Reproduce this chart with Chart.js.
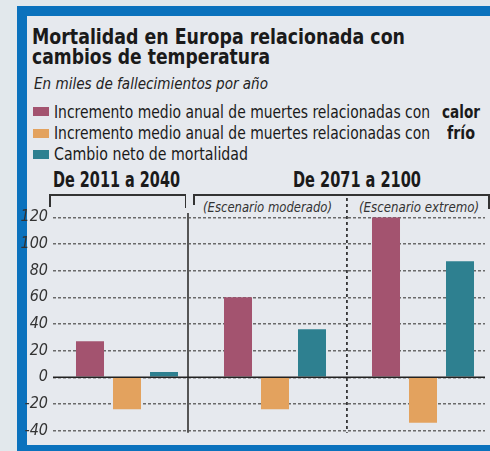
<!DOCTYPE html>
<html>
<head>
<meta charset="utf-8">
<script src="https://cdn.jsdelivr.net/npm/chart.js@4.4.1/dist/chart.umd.min.js"></script>
<style>
  html, body { margin:0; padding:0; }
  body { width:490px; height:451px; position:relative; overflow:hidden; background:#e2e8ec;
         font-family:"Liberation Sans Narrow","DejaVu Sans Condensed","Liberation Sans",Arial,sans-serif; color:#1a1a1a; }
  #panel { position:absolute; left:17px; top:6px; width:473px; height:445px; background:#0b72bd; }
  #inner { position:absolute; left:27px; top:16px; width:463px; height:429px; background:#e6e9ee; }
  .t { position:absolute; white-space:nowrap; line-height:1; transform-origin:0 0; }
  .sw { position:absolute; width:16px; height:9px; }
  .ln { position:absolute; }
  canvas { position:absolute; left:0; top:0; }
</style>
</head>
<body>
<div id="panel"></div>
<div id="inner"></div>

<div class="t" data-w="373" style="left:32px;top:26px;font-size:22px;font-weight:bold;">Mortalidad en Europa relacionada con</div>
<div class="t" data-w="238" style="left:32px;top:46px;font-size:22px;font-weight:bold;">cambios de temperatura</div>
<div class="t" data-w="234" style="left:34px;top:77px;font-size:15px;font-style:italic;color:#222;">En miles de fallecimientos por año</div>

<div class="sw" id="sw0" style="left:33px;top:107px;"></div>
<div class="sw" id="sw1" style="left:33px;top:129px;"></div>
<div class="sw" id="sw2" style="left:33px;top:150px;"></div>
<div class="t" id="lg0" data-w="376" style="left:54px;top:104px;font-size:17px;"></div>
<div class="t" id="lgb0" data-w="38" style="left:442px;top:104px;font-size:17px;font-weight:bold;"></div>
<div class="t" id="lg1" data-w="376" style="left:54px;top:125px;font-size:17px;"></div>
<div class="t" id="lgb1" data-w="28" style="left:447px;top:125px;font-size:17px;font-weight:bold;"></div>
<div class="t" id="lg2" data-w="194" style="left:54px;top:146px;font-size:17px;"></div>

<div class="t" data-w="127" style="left:53px;top:170px;font-size:21px;font-weight:bold;">De 2011 a 2040</div>
<div class="t" data-w="128" style="left:293px;top:170px;font-size:21px;font-weight:bold;">De 2071 a 2100</div>
<div class="t" data-w="129" style="left:203px;top:200px;font-size:14.5px;font-style:italic;color:#333;">(Escenario moderado)</div>
<div class="t" data-w="120" style="left:359px;top:200px;font-size:14.5px;font-style:italic;color:#333;">(Escenario extremo)</div>

<!-- brackets -->
<div class="ln" style="left:49px;top:194px;width:137px;height:1.5px;background:#333;"></div>
<div class="ln" style="left:49px;top:194px;width:1.5px;height:13px;background:#333;"></div>
<div class="ln" style="left:184.5px;top:194px;width:1.5px;height:14px;background:#333;"></div>
<div class="ln" style="left:193px;top:194px;width:296px;height:1.5px;background:#333;"></div>
<div class="ln" style="left:193px;top:194px;width:1.5px;height:11px;background:#333;"></div>
<div class="ln" style="left:488px;top:194px;width:1.5px;height:15px;background:#333;"></div>

<canvas id="c" width="490" height="451"></canvas>

<script>
// ---- data ----
const periods = ['De 2011 a 2040', 'De 2071 a 2100 (Escenario moderado)', 'De 2071 a 2100 (Escenario extremo)'];
const seriesNames = ['Incremento medio anual de muertes relacionadas con', 'Incremento medio anual de muertes relacionadas con', 'Cambio neto de mortalidad'];
const seriesKeywords = ['calor', 'frío', ''];
const calor = [27, 60, 120];
const frio = [-24, -24, -34];
const neto = [4, 36, 87];
const yTicks = [-40, -20, 0, 20, 40, 60, 80, 100, 120];

const colors = ['#a3536f', '#e3a25e', '#2e8090'];

// legend text
['sw0','sw1','sw2'].forEach((id,i)=>document.getElementById(id).style.background = colors[i]);
document.getElementById('lg0').textContent = seriesNames[0];
document.getElementById('lg1').textContent = seriesNames[1];
document.getElementById('lg2').textContent = seriesNames[2];
document.getElementById('lgb0').textContent = seriesKeywords[0];
document.getElementById('lgb1').textContent = seriesKeywords[1];

// fit text widths
document.querySelectorAll('.t[data-w]').forEach(el => {
  const w = el.getBoundingClientRect().width;
  const target = +el.dataset.w;
  if (w > 0) el.style.transform = 'scaleX(' + (target / w) + ')';
});

const decor = {
  id: 'decor',
  beforeDatasetsDraw(chart) {
    const ctx = chart.ctx, x = chart.scales.x, y = chart.scales.y;
    ctx.save();
    // solid divider
    ctx.strokeStyle = '#555'; ctx.lineWidth = 2;
    const xs = Math.round(x.getPixelForValue(0.412));
    ctx.beginPath(); ctx.moveTo(xs, 213); ctx.lineTo(xs, y.getPixelForValue(-40) + 2); ctx.stroke();
    // dashed divider
    ctx.strokeStyle = '#111'; ctx.lineWidth = 1.5; ctx.setLineDash([3, 3]);
    const xd = x.getPixelForValue(1.486);
    ctx.beginPath(); ctx.moveTo(xd, 198); ctx.lineTo(xd, y.getPixelForValue(-40) + 2); ctx.stroke();
    ctx.restore();
  },
  afterDatasetsDraw(chart) {
    const ctx = chart.ctx, y = chart.scales.y, a = chart.chartArea;
    ctx.save();
    ctx.strokeStyle = '#222'; ctx.lineWidth = 1.5;
    const y0 = y.getPixelForValue(0);
    ctx.beginPath(); ctx.moveTo(a.left, y0); ctx.lineTo(a.right, y0); ctx.stroke();
    ctx.restore();
  }
};

new Chart(document.getElementById('c'), {
  type: 'bar',
  data: {
    labels: periods.map((_, i) => i),
    datasets: [
      { label: seriesNames[0] + ' ' + seriesKeywords[0], data: calor, backgroundColor: colors[0] },
      { label: seriesNames[1] + ' ' + seriesKeywords[1], data: frio, backgroundColor: colors[1] },
      { label: seriesNames[2], data: neto, backgroundColor: colors[2] }
    ]
  },
  options: {
    responsive: false,
    animation: false,
    devicePixelRatio: 1,
    categoryPercentage: 0.75,
    barPercentage: 0.757,
    layout: { padding: { top: 217.33, bottom: 20.33, left: 0, right: 5 } },
    plugins: { legend: { display: false }, tooltip: { enabled: false }, title: { display: false } },
    scales: {
      x: {
        type: 'linear',
        display: false,
        offset: false,
        min: -0.5,
        max: 2.4189,
        afterBuildTicks: s => { s.ticks = periods.map((_, i) => ({ value: i })); }
      },
      y: {
        min: -40, max: 120,
        afterBuildTicks: s => { s.ticks = yTicks.map(v => ({ value: v })); },
        afterFit: s => { s.width = 53; },
        border: { display: false, dash: [3, 2] },
        grid: { color: '#6a6a6a', lineWidth: 1.5, drawTicks: false },
        ticks: {
          padding: 5,
          color: '#333',
          font: { family: '"Liberation Sans Narrow","DejaVu Sans Condensed","Liberation Sans",sans-serif', size: 16, style: 'italic' }
        }
      }
    }
  },
  plugins: [decor]
});
</script>
</body>
</html>
